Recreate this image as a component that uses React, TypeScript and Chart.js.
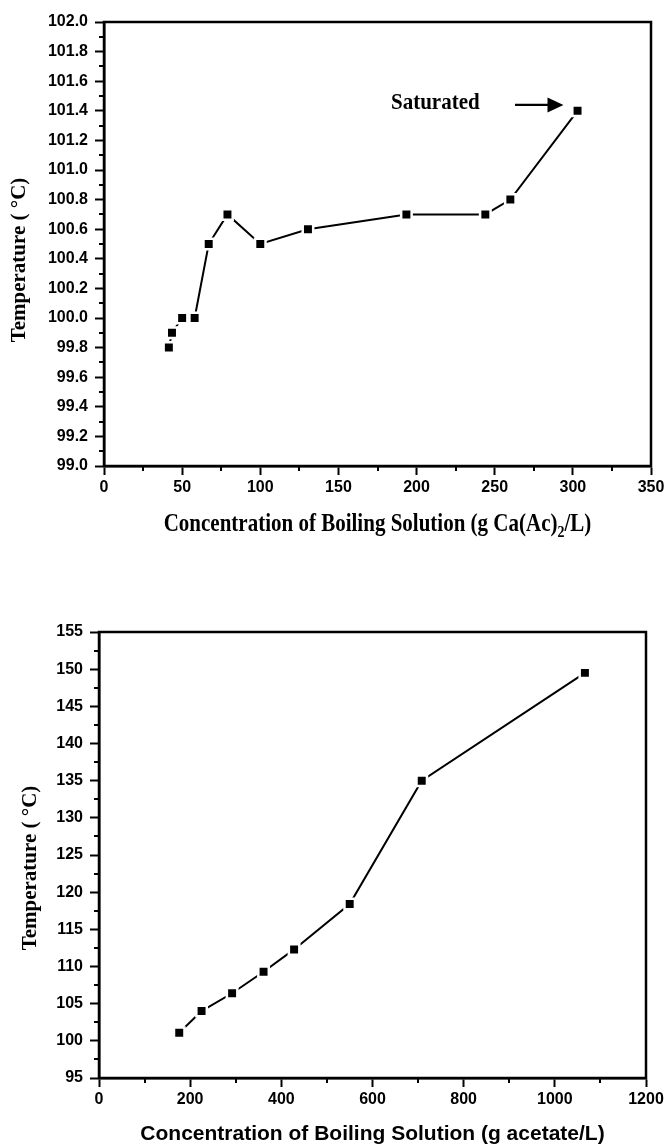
import React, { useEffect, useRef } from 'react';
import { Chart, registerables } from 'chart.js';

Chart.register(...registerables);

// ---------- Data ----------
const caConcentration = [41.5, 43.5, 50, 58, 67, 79, 100, 130.5, 193.5, 244, 260, 303];
const caTemperature = [99.8, 99.9, 100.0, 100.0, 100.5, 100.7, 100.5, 100.6, 100.7, 100.7, 100.8, 101.4];

const acetateConcentration = [176, 225, 292, 361, 428, 550, 708, 1066];
const acetateTemperature = [101.1, 104.0, 106.4, 109.3, 112.3, 118.4, 135.0, 149.5];

// axis ranges: [min, max, major step, minor step]
const topXAxis = [0, 350, 50, 25];
const topYAxis = [99.0, 102.0, 0.2, 0.1];
const bottomXAxis = [0, 1200, 200, 100];
const bottomYAxis = [95, 155, 5, 2.5];

// texts
const topXTitle = ['Concentration of Boiling Solution (g Ca(Ac)', '2', '/L)'];
const bottomXTitle = 'Concentration of Boiling Solution (g acetate/L)';
const yTitle = 'Temperature ( \u00B0C)';

// annotation in data units: label centre, arrow start, arrow tip
const saturatedText = 'Saturated';
const saturatedLabelAt = [212, 101.45];
const saturatedArrowFrom = [263, 101.44];
const saturatedArrowTo = [294, 101.44];

const SANS = '"Liberation Sans", Arial, sans-serif';
const SERIF = '"Liberation Serif", "Times New Roman", serif';

type Cfg = {
  xAxis: number[];
  yAxis: number[];
  decimals: number;
  xTitle: (ctx: CanvasRenderingContext2D, cx: number, cy: number) => void;
  yTitleX: number;
  yTitleShift: number;
  xTitleY: number;
  annotate?: (chart: any) => void;
};

function isMajor(v: number, min: number, step: number) {
  const k = (v - min) / step;
  return Math.abs(k - Math.round(k)) < 1e-6;
}

function makePlugin(cfg: Cfg) {
  return {
    id: 'originFrame',
    afterDraw(chart: any) {
      const { ctx, chartArea: a, scales } = chart;
      ctx.save();
      ctx.strokeStyle = '#000';
      ctx.fillStyle = '#000';
      ctx.lineWidth = 2.5;
      ctx.strokeRect(a.left, a.top, a.right - a.left, a.bottom - a.top);

      // minor ticks
      ctx.lineWidth = 2;
      const [xmin, xmax, xstep, xminor] = cfg.xAxis;
      for (let v = xmin; v <= xmax + 1e-9; v += xminor) {
        if (isMajor(v, xmin, xstep)) continue;
        const px = Math.round(scales.x.getPixelForValue(v));
        ctx.beginPath();
        ctx.moveTo(px, a.bottom);
        ctx.lineTo(px, a.bottom + 5);
        ctx.stroke();
      }
      const [ymin, ymax, ystep, yminor] = cfg.yAxis;
      for (let v = ymin; v <= ymax + 1e-9; v += yminor) {
        if (isMajor(v, ymin, ystep)) continue;
        const py = Math.round(scales.y.getPixelForValue(v));
        ctx.beginPath();
        ctx.moveTo(a.left, py);
        ctx.lineTo(a.left - 5, py);
        ctx.stroke();
      }

      // x title
      cfg.xTitle(ctx, (a.left + a.right) / 2, cfg.xTitleY);

      // y title
      ctx.save();
      ctx.translate(cfg.yTitleX, (a.top + a.bottom) / 2 + cfg.yTitleShift);
      ctx.rotate(-Math.PI / 2);
      ctx.font = `bold 21px ${SERIF}`;
      ctx.textAlign = 'center';
      ctx.textBaseline = 'middle';
      ctx.fillText(yTitle, 0, 0);
      ctx.restore();

      if (cfg.annotate) cfg.annotate(chart);
      ctx.restore();
    },
  };
}

function buildConfig(xs: number[], ys: number[], cfg: Cfg, geom: any) {
  const [xmin, xmax, xstep] = cfg.xAxis;
  const [ymin, ymax, ystep] = cfg.yAxis;
  return {
    type: 'line',
    data: {
      datasets: [
        {
          data: xs.map((x, i) => ({ x, y: ys[i] })),
          borderColor: '#000',
          borderWidth: 2,
          tension: 0,
          pointStyle: 'rect',
          pointRadius: 7.4,
          pointBackgroundColor: '#000',
          pointBorderColor: '#fff',
          pointBorderWidth: 2.5,
          pointHoverRadius: 7.4,
          clip: false,
        },
      ],
    },
    options: {
      animation: false,
      responsive: false,
      devicePixelRatio: 1,
      events: [],
      layout: { padding: { left: 0, top: geom.top, right: geom.right, bottom: 0 } },
      plugins: { legend: { display: false }, tooltip: { enabled: false }, title: { display: false } },
      scales: {
        x: {
          type: 'linear',
          min: xmin,
          max: xmax,
          afterFit: (s: any) => { s.height = geom.xHeight; },
          border: { display: true, color: '#000', width: 2.5 },
          grid: { drawOnChartArea: false, drawTicks: true, tickLength: 9, tickWidth: 2, tickColor: '#000' },
          ticks: {
            stepSize: xstep,
            autoSkip: false,
            maxRotation: 0,
            padding: 3,
            color: '#000',
            font: { family: SANS, size: 16, weight: 'bold' },
            callback: (v: any) => String(Math.round(Number(v))),
          },
        },
        y: {
          type: 'linear',
          min: ymin,
          max: ymax,
          afterFit: (s: any) => { s.width = geom.yWidth; },
          border: { display: true, color: '#000', width: 2.5 },
          grid: { drawOnChartArea: false, drawTicks: true, tickLength: 9, tickWidth: 2, tickColor: '#000' },
          ticks: {
            stepSize: ystep,
            autoSkip: false,
            padding: 7,
            color: '#000',
            font: { family: SANS, size: 16, weight: 'bold' },
            callback: (v: any) => Number(v).toFixed(cfg.decimals),
          },
        },
      },
    },
    plugins: [makePlugin(cfg)],
  } as any;
}

function drawTopXTitle(ctx: CanvasRenderingContext2D, cx: number, cy: number) {
  ctx.save();
  ctx.translate(cx, cy);
  ctx.scale(1, 1.15);
  ctx.textBaseline = 'alphabetic';
  ctx.textAlign = 'left';
  const big = `bold 21px ${SERIF}`;
  const small = `bold 14px ${SERIF}`;
  ctx.font = big;
  const w1 = ctx.measureText(topXTitle[0]).width;
  const w3 = ctx.measureText(topXTitle[2]).width;
  ctx.font = small;
  const w2 = ctx.measureText(topXTitle[1]).width;
  let x = -(w1 + w2 + w3) / 2;
  const base = 7;
  ctx.font = big;
  ctx.fillText(topXTitle[0], x, base);
  x += w1;
  ctx.font = small;
  ctx.fillText(topXTitle[1], x, base + 5);
  x += w2;
  ctx.font = big;
  ctx.fillText(topXTitle[2], x, base);
  ctx.restore();
}

function drawBottomXTitle(ctx: CanvasRenderingContext2D, cx: number, cy: number) {
  ctx.save();
  ctx.font = `bold 21px ${SANS}`;
  ctx.textAlign = 'center';
  ctx.textBaseline = 'middle';
  ctx.fillText(bottomXTitle, cx, cy);
  ctx.restore();
}

function annotateSaturated(chart: any) {
  const { ctx, scales } = chart;
  const lx = scales.x.getPixelForValue(saturatedLabelAt[0]);
  const ly = scales.y.getPixelForValue(saturatedLabelAt[1]);
  ctx.save();
  ctx.translate(lx, ly);
  ctx.scale(1, 1.12);
  ctx.font = `bold 21px ${SERIF}`;
  ctx.textAlign = 'center';
  ctx.textBaseline = 'middle';
  ctx.fillStyle = '#000';
  ctx.fillText(saturatedText, 0, 0);
  ctx.restore();

  const x1 = scales.x.getPixelForValue(saturatedArrowFrom[0]);
  const y1 = scales.y.getPixelForValue(saturatedArrowFrom[1]);
  const x2 = scales.x.getPixelForValue(saturatedArrowTo[0]);
  const y2 = scales.y.getPixelForValue(saturatedArrowTo[1]);
  ctx.save();
  ctx.strokeStyle = '#000';
  ctx.fillStyle = '#000';
  ctx.lineWidth = 2.2;
  ctx.beginPath();
  ctx.moveTo(x1, y1);
  ctx.lineTo(x2 - 12, y2);
  ctx.stroke();
  ctx.beginPath();
  ctx.moveTo(x2, y2);
  ctx.lineTo(x2 - 16, y2 - 7.5);
  ctx.lineTo(x2 - 16, y2 + 7.5);
  ctx.closePath();
  ctx.fill();
  ctx.restore();
}

const topCfg: Cfg = {
  xAxis: topXAxis,
  yAxis: topYAxis,
  decimals: 1,
  xTitle: drawTopXTitle,
  yTitleX: 20,
  yTitleShift: 16,
  xTitleY: 523,
  annotate: annotateSaturated,
};

const bottomCfg: Cfg = {
  xAxis: bottomXAxis,
  yAxis: bottomYAxis,
  decimals: 0,
  xTitle: drawBottomXTitle,
  yTitleX: 31,
  yTitleShift: 13,
  xTitleY: 554,
};

export default function App() {
  const topRef = useRef<HTMLCanvasElement>(null);
  const bottomRef = useRef<HTMLCanvasElement>(null);

  useEffect(() => {
    document.body.style.margin = '0';
    document.body.style.background = '#fff';
    const c1 = new Chart(
      topRef.current as HTMLCanvasElement,
      buildConfig(caConcentration, caTemperature, topCfg, { top: 22, right: 17, yWidth: 104, xHeight: 114 })
    );
    const c2 = new Chart(
      bottomRef.current as HTMLCanvasElement,
      buildConfig(acetateConcentration, acetateTemperature, bottomCfg, { top: 52, right: 22, yWidth: 99, xHeight: 68 })
    );
    return () => {
      c1.destroy();
      c2.destroy();
    };
  }, []);

  return (
    <div style={{ position: 'relative', width: 668, height: 1146, background: '#fff', overflow: 'hidden' }}>
      <canvas ref={topRef} width={668} height={580} style={{ position: 'absolute', left: 0, top: 0 }} />
      <canvas ref={bottomRef} width={668} height={566} style={{ position: 'absolute', left: 0, top: 580 }} />
    </div>
  );
}
